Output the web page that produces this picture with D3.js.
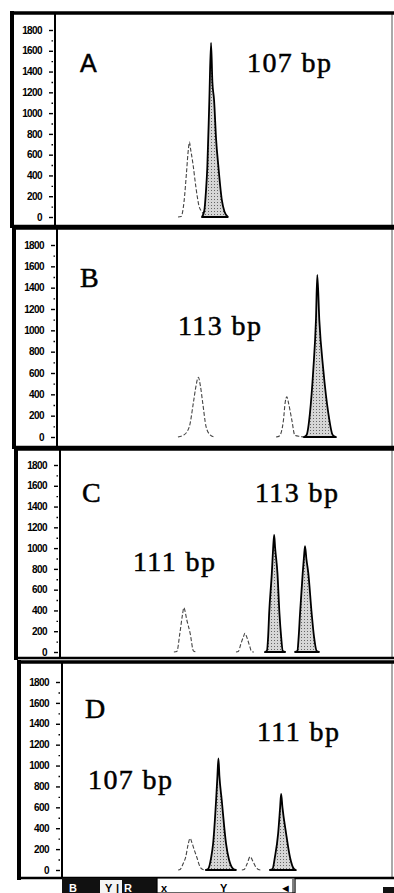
<!DOCTYPE html>
<html>
<head>
<meta charset="utf-8">
<script src="https://cdn.jsdelivr.net/npm/d3@7"></script>
<style>
    body { margin: 0; background: #ffffff; }
    svg { display: block; }
</style>
</head>
<body>
<script>
// 纵轴刻度 (RFU)
const yTicks = [0, 200, 400, 600, 800, 1000, 1200, 1400, 1600, 1800];
const yMinorTicks = [100, 300, 500, 700, 900, 1100, 1300, 1500, 1700];
// 面板字母与片段大小标注
const panelLetters = ['A', 'B', 'C', 'D'];
const sizeLabels = [['107 bp'], ['113 bp'], ['111 bp', '113 bp'], ['107 bp', '111 bp']];

// 每个峰为 [扫描位置(%), RFU] 点列
// 虚线峰（浅色染料）
const dashedA = [
    [[36.5, 0], [37.4, 5], [38.3, 150], [39.0, 420], [39.6, 660], [39.9, 722], [40.2, 660], [40.9, 520], [41.8, 290], [42.7, 110], [43.6, 50], [44.8, 10], [46.6, 0]]
];
const dashedB = [
    [[36.1, 0], [37.9, 20], [39.5, 97], [40.7, 319], [41.5, 480], [42.2, 560], [42.8, 480], [43.5, 319], [44.5, 97], [45.7, 20], [46.9, 0]],
    [[65.4, 0], [66.4, 10], [67.6, 159], [68.1, 320], [68.6, 378], [69.1, 320], [70.1, 159], [71.0, 15], [72.5, 5], [74.3, 0]]
];
const dashedC = [
    [[34.3, 0], [35.2, 5], [36.1, 180], [36.9, 360], [37.3, 427], [38.2, 308], [39.2, 180], [40.2, 10], [41.3, 0]],
    [[53.0, 0], [53.7, 5], [54.5, 80], [55.3, 150], [55.7, 180], [56.3, 140], [57.1, 60], [57.7, 5], [58.4, 0]]
];
const dashedD = [
    [[35.2, 0], [35.8, 5], [36.7, 60], [37.5, 127], [38.2, 240], [38.8, 303], [39.4, 260], [40.2, 180], [40.8, 127], [41.8, 32], [42.7, 5], [43.6, 0]],
    [[54.5, 0], [55.2, 5], [56.1, 60], [57.0, 127], [57.9, 80], [58.8, 25], [59.5, 5], [60.3, 0]]
];
// 实心峰（深色染料）
const filledA = [
    [[43.6, 0], [44.3, 60], [44.8, 250], [45.2, 480], [45.8, 1126], [46.3, 1675], [46.7, 1300], [47.2, 1126], [47.8, 750], [48.5, 480], [49.5, 164], [50.3, 50], [51.3, 0]]
];
const filledB = [
    [[73.7, 0], [74.5, 19], [75.5, 222], [76.5, 628], [77.3, 1097], [77.7, 1519], [78.3, 1097], [79.5, 628], [81.0, 222], [82.3, 19], [83.3, 0]]
];
const filledC = [
    [[61.7, 0], [62.3, 10], [62.7, 150], [63.0, 372], [63.8, 757], [64.2, 1000], [64.5, 1126], [64.8, 1000], [65.5, 757], [66.1, 372], [66.6, 150], [67.1, 10], [67.8, 0]],
    [[70.8, 0], [71.5, 10], [71.9, 150], [72.3, 372], [73.1, 757], [73.5, 920], [73.8, 1020], [74.2, 900], [74.8, 757], [75.8, 372], [76.5, 150], [77.3, 10], [78.0, 0]]
];
const filledD = [
    [[43.6, 0], [44.3, 10], [45.2, 120], [45.8, 256], [46.7, 670], [47.1, 900], [47.4, 1069], [47.7, 900], [48.4, 670], [49.7, 256], [50.6, 100], [51.9, 10], [52.7, 0]],
    [[63.0, 0], [63.8, 10], [64.5, 120], [65.5, 351], [66.1, 600], [66.4, 728], [66.8, 600], [67.9, 351], [69.1, 120], [70.3, 10], [70.9, 0]]
];
const dashedTraces = [dashedA, dashedB, dashedC, dashedD];
const filledTraces = [filledA, filledB, filledC, filledD];

// 面板版式（扫描件略有倾斜，每个面板左边略有偏移）
const panelLayout = [
    {outerX: 12, frameX: 55, top: 13, yMax: 30, y0: 217, bottom: 225, letter: {x: 80, y: 72, serif: false}, labels: [{x: 247, y: 72}]},
    {outerX: 14, frameX: 57, top: 228, yMax: 245, y0: 437, bottom: 446, letter: {x: 80, y: 287, serif: true}, labels: [{x: 178, y: 335}]},
    {outerX: 16, frameX: 60, top: 449, yMax: 465, y0: 652, bottom: 657, letter: {x: 82, y: 502, serif: true}, labels: [{x: 133, y: 571}, {x: 255, y: 502}]},
    {outerX: 19, frameX: 62, top: 662, yMax: 682, y0: 870, bottom: 877, letter: {x: 85, y: 718, serif: true}, labels: [{x: 88, y: 789}, {x: 257, y: 741}]}
];

const svgWidth = 394, svgHeight = 893, rightX = 392;

const svg = d3.select('body')
    .append('svg')
    .attr('width', svgWidth)
    .attr('height', svgHeight);

// 斑点填充图案
const pattern = svg.append('defs')
    .append('pattern')
    .attr('id', 'stipple')
    .attr('width', 3)
    .attr('height', 3)
    .attr('patternUnits', 'userSpaceOnUse');
pattern.append('rect').attr('width', 3).attr('height', 3).attr('fill', '#d6d6d6');
pattern.append('rect').attr('x', 1).attr('y', 1).attr('width', 1).attr('height', 1).attr('fill', '#666');

/**
 * 绘制单个面板
 */
const renderPanel = (layout, i) => {
    const g = svg.append('g').attr('class', `panel-${panelLetters[i]}`);

    const x = d3.scaleLinear().domain([0, 100]).range([layout.frameX, rightX]);
    const y = d3.scaleLinear().domain([0, 1800]).range([layout.y0, layout.yMax]);

    // 边框
    g.append('line')
        .attr('x1', rightX).attr('x2', rightX)
        .attr('y1', layout.top).attr('y2', layout.bottom)
        .attr('stroke', '#555').attr('stroke-width', 1);
    g.append('line')
        .attr('x1', layout.outerX).attr('x2', layout.outerX)
        .attr('y1', layout.top - 2).attr('y2', layout.bottom + 3)
        .attr('stroke', '#000').attr('stroke-width', 4);
    g.append('line')
        .attr('x1', layout.outerX - 2).attr('x2', svgWidth)
        .attr('y1', layout.top).attr('y2', layout.top)
        .attr('stroke', '#000').attr('stroke-width', 3.5);
    g.append('line')
        .attr('x1', layout.frameX).attr('x2', layout.frameX)
        .attr('y1', layout.top).attr('y2', layout.bottom)
        .attr('stroke', '#000').attr('stroke-width', 2);
    g.append('line')
        .attr('x1', layout.outerX).attr('x2', svgWidth)
        .attr('y1', layout.bottom + 1).attr('y2', layout.bottom + 1)
        .attr('stroke', '#000').attr('stroke-width', 2.5);

    // 纵轴
    const axisG = g.append('g')
        .attr('transform', `translate(${layout.frameX - 2},0)`)
        .call(d3.axisLeft(y).tickValues(yTicks).tickSize(4).tickPadding(7).tickFormat(d3.format('d')));
    axisG.select('.domain').remove();
    axisG.selectAll('.tick line').attr('stroke', '#000').attr('stroke-width', 1.4);
    axisG.selectAll('.tick text')
        .attr('fill', '#000')
        .style('font-family', '"Liberation Sans", Arial, sans-serif')
        .style('font-size', '10px')
        .style('font-weight', 'bold')
        .style('letter-spacing', '-0.6px');
    const minorG = g.append('g')
        .attr('transform', `translate(${layout.frameX - 2},0)`)
        .call(d3.axisLeft(y).tickValues(yMinorTicks).tickSize(1.5).tickFormat(''));
    minorG.select('.domain').remove();
    minorG.selectAll('.tick line').attr('stroke', '#000').attr('stroke-width', 1.4);

    // 虚线峰
    const line = d3.line()
        .x(d => x(d[0]))
        .y(d => y(d[1]))
        .curve(d3.curveMonotoneX);
    g.append('g')
        .selectAll('path')
        .data(dashedTraces[i])
        .join('path')
        .attr('d', line)
        .attr('fill', 'none')
        .attr('stroke', '#444')
        .attr('stroke-width', 1.1)
        .attr('stroke-dasharray', '4,2');

    // 实心峰
    const area = d3.area()
        .x(d => x(d[0]))
        .y0(y(0))
        .y1(d => y(d[1]))
        .curve(d3.curveMonotoneX);
    g.append('g')
        .selectAll('path')
        .data(filledTraces[i])
        .join('path')
        .attr('d', area)
        .attr('fill', 'url(#stipple)')
        .attr('stroke', '#000')
        .attr('stroke-width', 1.8)
        .attr('stroke-linejoin', 'round');

    // 面板字母
    g.append('text')
        .attr('x', layout.letter.x)
        .attr('y', layout.letter.y)
        .text(panelLetters[i])
        .style('font-family', layout.letter.serif ? '"Liberation Serif", "Times New Roman", serif' : '"Liberation Sans", Arial, sans-serif')
        .style('font-size', layout.letter.serif ? '28px' : '25px')
        .attr('fill', '#000')
        .attr('stroke', '#000')
        .attr('stroke-width', 0.5);

    // 片段大小标注
    g.append('g')
        .selectAll('text')
        .data(sizeLabels[i])
        .join('text')
        .attr('x', (d, k) => layout.labels[k].x)
        .attr('y', (d, k) => layout.labels[k].y)
        .text(d => d)
        .style('font-family', '"Liberation Serif", "Times New Roman", serif')
        .style('font-size', '28px')
        .style('letter-spacing', '1.4px')
        .attr('fill', '#000')
        .attr('stroke', '#000')
        .attr('stroke-width', 0.5);
};

panelLayout.forEach(renderPanel);

/**
 * 底部软件工具栏
 */
const renderToolbar = () => {
    const tb = svg.append('g').attr('class', 'toolbar');
    tb.append('rect').attr('x', 62).attr('y', 878).attr('width', 95).attr('height', 15).attr('fill', '#111');
    tb.append('rect').attr('x', 100).attr('y', 880).attr('width', 22).attr('height', 13).attr('fill', '#f4f4f4');
    tb.append('rect').attr('x', 157).attr('y', 878).attr('width', 138).attr('height', 15)
        .attr('fill', '#fff').attr('stroke', '#000').attr('stroke-width', 1.2);
    tb.append('line').attr('x1', 293).attr('x2', 293).attr('y1', 879).attr('y2', 893).attr('stroke', '#000');
    const items = [
        {t: 'B', x: 69, c: '#fff'}, {t: 'Y', x: 105, c: '#000'}, {t: '|', x: 116, c: '#000'},
        {t: 'R', x: 124, c: '#fff'}, {t: 'x', x: 161, c: '#000'}, {t: 'Y', x: 220, c: '#000'}, {t: '◄', x: 280, c: '#000'}
    ];
    tb.selectAll('text.tb')
        .data(items)
        .join('text')
        .attr('class', 'tb')
        .attr('x', d => d.x)
        .attr('y', 892)
        .text(d => d.t)
        .attr('fill', d => d.c)
        .style('font-family', '"Liberation Sans", Arial, sans-serif')
        .style('font-size', '11px')
        .style('font-weight', 'bold');
    tb.append('rect').attr('x', 383).attr('y', 887).attr('width', 11).attr('height', 6).attr('fill', '#111');
};
renderToolbar();
</script>
</body>
</html>
